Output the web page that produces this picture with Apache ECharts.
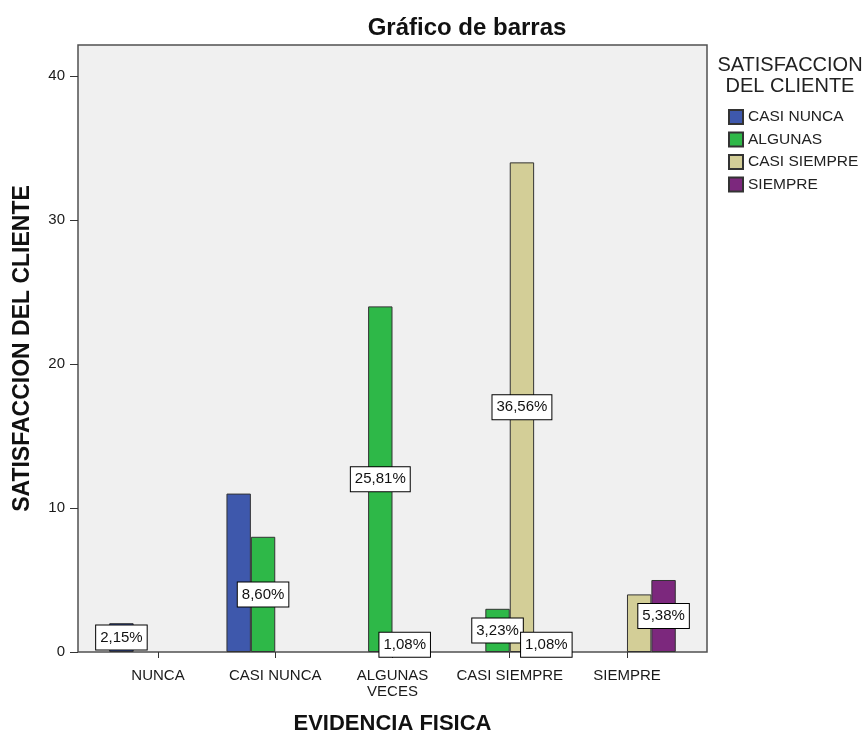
<!DOCTYPE html>
<html>
<head>
<meta charset="utf-8">
<script src="https://cdn.jsdelivr.net/npm/echarts@6/dist/echarts.min.js"></script>
<style>
  html, body { margin: 0; padding: 0; background: #ffffff; }
  #chart { width: 865px; height: 733px; }
</style>
</head>
<body>
<div id="chart"></div>
<script>
// Categories on the x axis (EVIDENCIA FISICA)
const categories = ['NUNCA', 'CASI NUNCA', 'ALGUNAS\nVECES', 'CASI SIEMPRE', 'SIEMPRE'];

// Legend groups (SATISFACCION DEL CLIENTE)
const seriesNames = ['CASI NUNCA', 'ALGUNAS', 'CASI SIEMPRE', 'SIEMPRE'];

// Counts per category for each group
const casiNunca   = [2, 11, null, null, null];
const algunas     = [null, 8, 24, 3, null];
const casiSiempre = [null, null, 1, 34, 4];
const siempre     = [null, null, null, 1, 5];

// Bars that carry no percentage box: [group index, category index]
const unlabeled = [[0, 1], [2, 4]];

// Y axis tick values
const yTicks = [0, 10, 20, 30, 40];

const groupData = [casiNunca, algunas, casiSiempre, siempre];
const palette = ['#3E58AC', '#2EB848', '#D3CE97', '#7C287D'];
const FONT = '"Liberation Sans", Arial, sans-serif';

const total = groupData.flat().reduce((s, v) => s + (v || 0), 0);
const pct = v => (v / total * 100).toFixed(2).replace('.', ',') + '%';

const isUnlabeled = (si, ci) => unlabeled.some(([a, b]) => a === si && b === ci);

const series = groupData.map((arr, si) => ({
  name: seriesNames[si],
  type: 'bar',
  barWidth: 24.4,
  barGap: '0%',
  itemStyle: { color: palette[si], borderColor: '#333333', borderWidth: 1 },
  emphasis: { disabled: true },
  label: {
    show: true,
    position: 'inside',
    formatter: p => pct(p.value),
    backgroundColor: '#ffffff',
    borderColor: '#000000',
    borderWidth: 1,
    padding: [5, 4, 4, 4],
    color: '#111111',
    fontSize: 15,
    fontFamily: FONT
  },
  data: arr.map((v, ci) => v == null ? null
    : (isUnlabeled(si, ci) ? { value: v, label: { show: false } } : v))
}));

const chart = echarts.init(document.getElementById('chart'), null, { renderer: 'canvas' });
chart.setOption({
  animation: false,
  backgroundColor: '#ffffff',
  textStyle: { fontFamily: FONT },
  grid: {
    left: 99.4, right: 179.4, top: 45, bottom: 81,
    show: false, containLabel: false, outerBoundsMode: 'none'
  },
  graphic: [
    {
      type: 'rect', z: -10, silent: true,
      shape: { x: 78, y: 45, width: 629, height: 607 },
      style: { fill: '#F0F0F0', stroke: '#505050', lineWidth: 1.5 }
    },
    {
      type: 'text', x: 467, y: 28, silent: true,
      style: {
        text: 'Gráfico de barras', font: 'bold 24px ' + FONT, fill: '#111111',
        align: 'center', verticalAlign: 'middle', textAlign: 'center', textVerticalAlign: 'middle'
      }
    },
    {
      type: 'text', x: 790, y: 76, silent: true,
      style: {
        text: 'SATISFACCION\nDEL CLIENTE', font: '20px ' + FONT, fill: '#222222', lineHeight: 21,
        align: 'center', verticalAlign: 'middle', textAlign: 'center', textVerticalAlign: 'middle'
      }
    }
  ],
  legend: {
    orient: 'vertical',
    left: 728,
    top: 109,
    padding: 0,
    itemWidth: 14,
    itemHeight: 14,
    itemGap: 6.5,
    icon: 'rect',
    selectedMode: false,
    data: seriesNames,
    textStyle: { fontSize: 15.5, color: '#222222', fontFamily: FONT }
  },
  xAxis: {
    type: 'category',
    data: categories,
    axisLine: { show: false },
    axisTick: { show: true, alignWithLabel: true, length: 6, lineStyle: { color: '#333333' } },
    axisLabel: { interval: 0, margin: 16, fontSize: 15, color: '#1a1a1a', lineHeight: 16 },
    splitLine: { show: false },
    name: 'EVIDENCIA FISICA',
    nameLocation: 'middle',
    nameGap: 61,
    nameTextStyle: { fontSize: 22, fontWeight: 'bold', color: '#111111' }
  },
  yAxis: {
    type: 'value',
    min: 0,
    max: 42.15,
    offset: 21.4,
    axisLine: { show: false },
    splitLine: { show: false },
    axisTick: { show: true, length: 8, customValues: yTicks, lineStyle: { color: '#333333' } },
    axisLabel: { customValues: yTicks, margin: 13, fontSize: 15, color: '#1a1a1a' },
    name: 'SATISFACCION DEL CLIENTE',
    nameLocation: 'middle',
    nameRotate: 90,
    nameGap: 44,
    nameTextStyle: { fontSize: 23, fontWeight: 'bold', color: '#111111' }
  },
  series: series
});
</script>
</body>
</html>
